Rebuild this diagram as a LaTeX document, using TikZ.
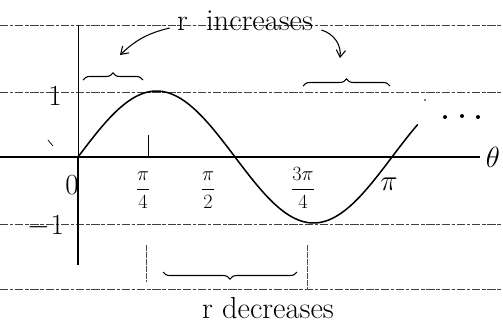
\documentclass[tikz,border=0pt]{standalone}
\usetikzlibrary{decorations.pathreplacing,arrows.meta}
\tikzset{
  ruled/.style={black!75, line width=0.5pt, dash pattern=on 7pt off 1.5pt on 3pt off 1.5pt},
  guide/.style={black!70, line width=0.5pt, dash pattern=on 5pt off 1pt},
  curlybrace/.style={decorate, decoration={brace, amplitude=6pt}, line width=0.9pt},
  note/.style={font=\fontsize{26}{30}\selectfont},
  ticklabel/.style={font=\fontsize{19}{23}\selectfont},
  biglabel/.style={font=\fontsize{26}{30}\selectfont},
  pointer/.style={-{Straight Barb[length=6pt,width=8pt]}, line width=0.9pt}
}
\begin{document}
\begin{tikzpicture}[x=0.03cm, y=-0.03cm, line width=0.8pt]
    \useasboundingbox (0,0) rectangle (503,330);

    % Define the points
    \coordinate (O) at (78, 157);
    \coordinate (Q1) at (148, 157);
    \coordinate (Q3) at (307, 157);
    \coordinate (AxisEnd) at (480, 157);

    % 1. Ruled lines of the notebook page
    \draw[ruled] (0, 25) -- (503, 25);
    \draw[ruled] (0, 92) -- (503, 92);
    \draw[ruled] (0, 224) -- (503, 224);
    \draw[ruled] (0, 289) -- (503, 289);

    % 2. Axes
    \draw[line width=1.3pt] (0, 157) -- (AxisEnd);
    \draw (78, 25) -- (78, 157);
    \draw[line width=1.1pt] (O) -- (78, 265);
    \draw[line width=0.5pt] (Q1) -- ++(0, -22);
    \draw[guide] (146, 245) -- (146, 282);
    \draw[guide] (307, 245) -- (307, 289);
    \draw[line width=0.6pt] (48, 140) -- (53, 146);

    % 3. The curve r = sin(2 theta)
    \draw[line width=1.3pt] plot[domain=0:3.40, samples=120, smooth]
        ({78 + 99.95*\x}, {157 - 66*sin(2*\x r)});
    \foreach \xd/\yd in {445/117, 462/116, 478/117}
        \fill (\xd, \yd) circle (2);
    \fill (425, 100) circle (0.9);

    % 4. Labels on the axes
    \node[biglabel] (one) at (55, 96) {$1$};
    \node[biglabel] (minusone) at (46, 226) {$-1$};
    \node[biglabel] (zero) at (72, 185) {$0$};
    \node[ticklabel] (piq) at (143, 190) {$\displaystyle\frac{\pi}{4}$};
    \node[ticklabel] (pih) at (208, 190) {$\displaystyle\frac{\pi}{2}$};
    \node[ticklabel] (pitq) at (303, 188) {$\displaystyle\frac{3\pi}{4}$};
    \node[biglabel] (pi) at (389, 184) {$\pi$};
    \node[biglabel] (theta) at (493, 157) {$\theta$};

    % 5. Braces and notes
    \draw[curlybrace] (83, 80) -- (143, 80);
    \draw[curlybrace] (303, 86) -- (390, 86);
    \draw[curlybrace] (297, 272) -- (163, 272);

    \node[note] (rinc) at (245, 21) {r\hspace{0.6em}increases};
    \node[note] (rdec) at (268, 308) {r decreases};

    \draw[pointer] (rinc.west) ++(-3, 7) to[bend right=15] (120, 55);
    \draw[pointer] (rinc.east) ++(4, 9) to[bend left=40] (340, 58);
\end{tikzpicture}
\end{document}
